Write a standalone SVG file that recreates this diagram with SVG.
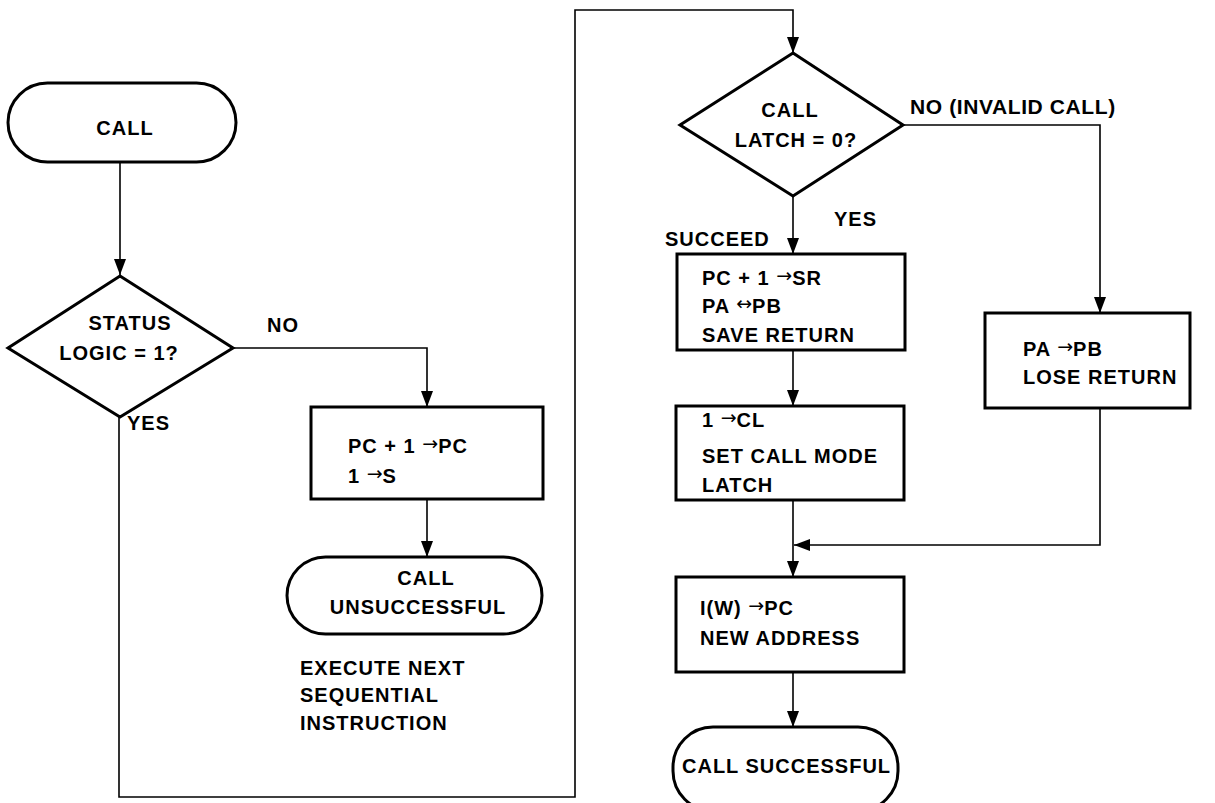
<svg xmlns="http://www.w3.org/2000/svg" width="1215" height="803" viewBox="0 0 1215 803">
<style>
.s{fill:#fff;stroke:#000;stroke-width:3}
.c{fill:none;stroke:#000;stroke-width:1.6}
text{font-family:"Liberation Sans",Arial,sans-serif;font-weight:bold;font-size:20px;letter-spacing:1px;fill:#000}
.m{text-anchor:middle}
.ar{font-family:"DejaVu Sans",sans-serif;font-weight:normal;font-size:19px;letter-spacing:0}
</style>
<defs>
<marker id="ah" viewBox="0 0 16 12" refX="16" refY="6" markerWidth="16" markerHeight="12" markerUnits="userSpaceOnUse" orient="auto">
<path d="M0,0 L16,6 L0,12 z" fill="#000"/>
</marker>
</defs>
<rect width="1215" height="803" fill="#fff"/>
<g id="connectors">
<line class="c" x1="120" y1="162" x2="120" y2="275" marker-end="url(#ah)"/>
<polyline class="c" points="233,348 427,348 427,407" marker-end="url(#ah)"/>
<line class="c" x1="427" y1="499" x2="427" y2="557" marker-end="url(#ah)"/>
<polyline class="c" points="119,417 119,797 575,797 575,10 793,10 793,53" marker-end="url(#ah)"/>
<polyline class="c" points="903,125 1100,125 1100,313" marker-end="url(#ah)"/>
<line class="c" x1="793" y1="196" x2="793" y2="254" marker-end="url(#ah)"/>
<line class="c" x1="793" y1="350" x2="793" y2="406" marker-end="url(#ah)"/>
<line class="c" x1="793" y1="500" x2="793" y2="577" marker-end="url(#ah)"/>
<polyline class="c" points="1100,408 1100,545 794,545" marker-end="url(#ah)"/>
<line class="c" x1="793" y1="672" x2="793" y2="727" marker-end="url(#ah)"/>
<text x="267" y="332">NO</text>
<text x="127" y="430">YES</text>
<text x="910" y="114" style="font-size:21px;letter-spacing:0.6px">NO (INVALID CALL)</text>
<text x="834" y="226">YES</text>
<text x="665" y="246">SUCCEED</text>
</g>
<g id="call">
<rect class="s" x="8" y="83" width="228" height="79" rx="39.5"/>
<text class="m" x="125" y="135">CALL</text>
</g>
<g id="status">
<polygon class="s" points="120,276 233,348 120,417 8,348"/>
<text class="m" x="130" y="330">STATUS</text>
<text class="m" x="119" y="360">LOGIC = 1?</text>
</g>
<g id="inc">
<rect class="s" x="311" y="407" width="232" height="92"/>
<text x="348" y="453">PC + 1 <tspan class="ar" dy="-3">→</tspan><tspan dy="3">PC</tspan></text>
<text x="348" y="483">1 <tspan class="ar" dy="-3">→</tspan><tspan dy="3">S</tspan></text>
</g>
<g id="unsucc">
<rect class="s" x="287" y="557" width="255" height="77" rx="38.5"/>
<text class="m" x="426" y="585">CALL</text>
<text class="m" x="418" y="614">UNSUCCESSFUL</text>
</g>
<g id="note">
<text x="300" y="675">EXECUTE NEXT</text>
<text x="300" y="702">SEQUENTIAL</text>
<text x="300" y="730">INSTRUCTION</text>
</g>
<g id="latch">
<polygon class="s" points="793,53 903,125 793,196 680,125"/>
<text class="m" x="790" y="117">CALL</text>
<text class="m" x="796" y="147">LATCH = 0?</text>
</g>
<g id="save">
<rect class="s" x="677" y="254" width="228" height="96"/>
<text x="702" y="285">PC + 1 <tspan class="ar" dy="-3">→</tspan><tspan dy="3">SR</tspan></text>
<text x="702" y="313">PA <tspan class="ar" dy="-3">↔</tspan><tspan dy="3">PB</tspan></text>
<text x="702" y="342">SAVE RETURN</text>
</g>
<g id="lose">
<rect class="s" x="985" y="313" width="205" height="95"/>
<text x="1023" y="356">PA <tspan class="ar" dy="-3">→</tspan><tspan dy="3">PB</tspan></text>
<text x="1023" y="384">LOSE RETURN</text>
</g>
<g id="setcl">
<rect class="s" x="676" y="406" width="228" height="94"/>
<text x="702" y="427">1 <tspan class="ar" dy="-3">→</tspan><tspan dy="3">CL</tspan></text>
<text x="702" y="463">SET CALL MODE</text>
<text x="702" y="492">LATCH</text>
</g>
<g id="newaddr">
<rect class="s" x="676" y="577" width="228" height="95"/>
<text x="700" y="615">I(W) <tspan class="ar" dy="-3">→</tspan><tspan dy="3">PC</tspan></text>
<text x="700" y="645">NEW ADDRESS</text>
</g>
<g id="succ">
<rect class="s" x="673" y="727" width="225" height="84" rx="40"/>
<text x="682" y="773">CALL SUCCESSFUL</text>
</g>
</svg>
